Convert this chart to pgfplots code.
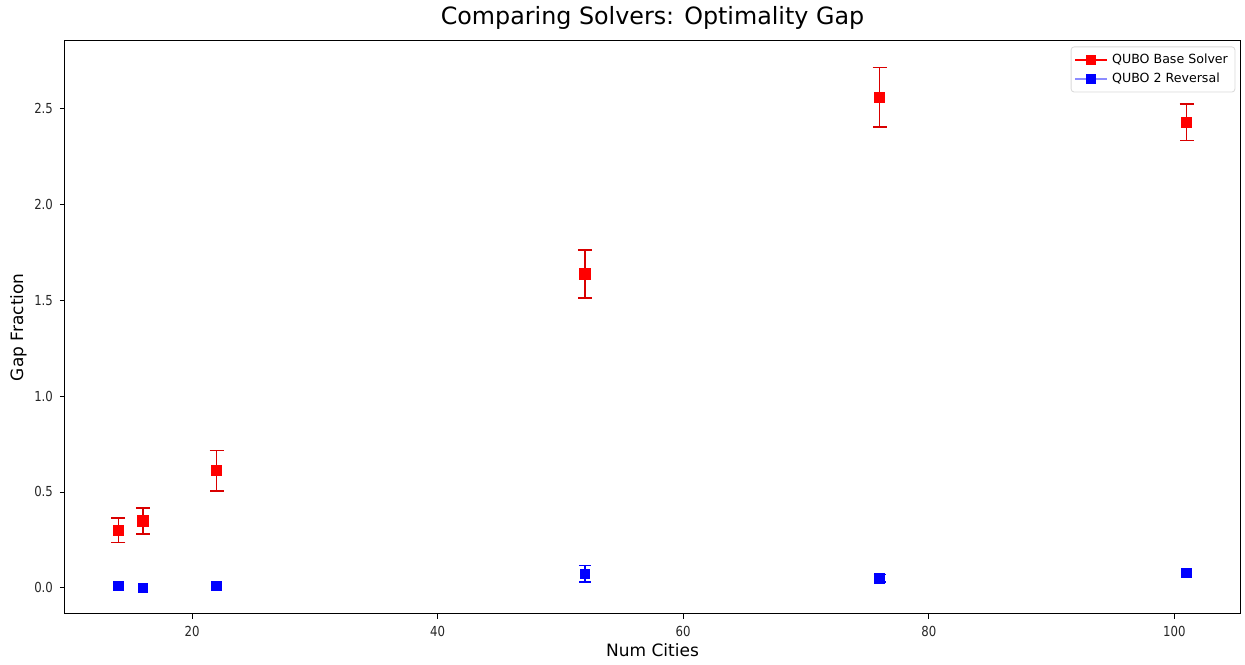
\documentclass[border=0pt]{standalone}
\usepackage{fontspec}
\setmainfont{DejaVu Sans}
\newfontfamily\tickfont{DejaVu Sans}[FakeStretch=0.85]
\usepackage{pgfplots}
\pgfplotsset{compat=1.18}
\usetikzlibrary{calc}

\begin{document}
\begin{tikzpicture}
\begin{axis}[
    name=ax,
    scale only axis,
    width=587.5pt, height=286.5pt,
    xmin=9.65, xmax=105.35,
    ymin=-0.136, ymax=2.855,
    xtick={20,40,60,80,100},
    ytick={0,0.5,1,1.5,2,2.5},
    yticklabel style={/pgf/number format/.cd, fixed, fixed zerofill, precision=1},
    /pgf/number format/assume math mode=true,
    tick align=outside, tick pos=lower,
    major tick length=2.5pt,
    tick style={black, line width=0.4pt},
    ticklabel style={font=\tickfont\fontsize{6.9}{8}\selectfont, text=black!85},
    axis line style={line width=0.5pt},
    title={Comparing Solvers: Optimality Gap},
    title style={font=\fontsize{11.9}{14}\selectfont, yshift=-4pt},
    xlabel={Num Cities},
    ylabel={Gap Fraction},
    label style={font=\fontsize{8.5}{10}\selectfont},
    xlabel style={yshift=3pt},
    ylabel style={yshift=-3pt},
    legend style={font=\fontsize{6.3}{7.5}\selectfont, draw=black!15, rounded corners=1.5pt,
        at={(0.996,0.99)}, anchor=north east, inner sep=1.5pt, row sep=-1pt},
    legend cell align=left,
]
\addplot[red, line width=0.8pt, mark=square*, mark size=2.4pt, only marks,
    legend image code/.code={
        \draw[red, line width=0.8pt, sharp corners] (0pt,0pt) -- (16pt,0pt);
        \fill[red, sharp corners] (5.8pt,-2.2pt) rectangle (10.2pt,2.2pt);},
    error bars/.cd, y dir=both, y explicit,
    error bar style={red!85!black, line width=0.75pt},
    error mark options={rotate=90, mark size=3.5pt, red!85!black, line width=0.75pt}]
    coordinates {
    (14,0.300) +- (0,0.065)
    (16,0.348) +- (0,0.068)
    (22,0.610) +- (0,0.105)
    (52,1.637) +- (0,0.125)
    (76,2.560) +- (0,0.155)
    (101,2.430) +- (0,0.095)
};
\addlegendentry{QUBO Base Solver}
% blue error bars only where they show
\addplot[blue, mark=none, only marks, forget plot,
    error bars/.cd, y dir=both, y explicit,
    error bar style={blue, line width=0.75pt},
    error mark options={rotate=90, mark size=3pt, blue, line width=0.75pt}]
    coordinates {
    (52,0.073) +- (0,0.043)
    (76,0.050) +- (0,0.020)
};
\addplot[blue, mark=square*, mark size=2.4pt, only marks,
    legend image code/.code={
        \draw[blue!45, line width=1pt, sharp corners] (0pt,0pt) -- (16pt,0pt);
        \fill[blue, sharp corners] (5.8pt,-2.2pt) rectangle (10.2pt,2.2pt);}]
    coordinates {
    (14,0.010)
    (16,0.000)
    (22,0.010)
    (52,0.073)
    (76,0.050)
    (101,0.078)
};
\addlegendentry{QUBO 2 Reversal}
\end{axis}
\path ($(ax.south west)+(-32.5pt,-25.5pt)$) rectangle ($(ax.north east)+(2.5pt,18pt)$);
\end{tikzpicture}
\end{document}
